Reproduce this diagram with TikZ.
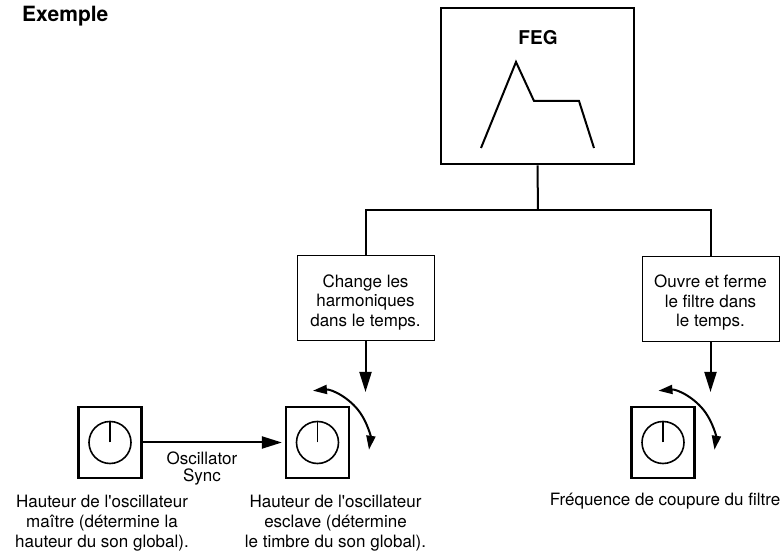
\documentclass[tikz,border=0pt]{standalone}
\usepackage{fontspec}
\setmainfont{TeX Gyre Heros}
\usetikzlibrary{arrows.meta}
\begin{document}
\begin{tikzpicture}[x=1pt,y=-1pt,
  lbl/.style={font=\fontsize{17}{20}\selectfont, align=center, inner sep=0},
  tbox/.style={draw, line width=1pt, minimum width=137pt, minimum height=85pt, align=center, font=\fontsize{17}{19.5}\selectfont, inner sep=0},
  knob/.style={draw, line width=2.2pt, minimum width=63pt, minimum height=71pt, inner sep=0},
  dial/.style={line width=1.6pt},
  conn/.style={line width=2pt},
  bigarrow/.style={line width=2pt, -{Triangle[length=20pt,width=12pt]}},
  turn/.style={line width=2pt, {Triangle[length=14pt,width=9pt]}-{Triangle[length=14pt,width=9pt]}}
]
\useasboundingbox (0,0) rectangle (780,553);

\node[font=\fontsize{21}{25}\selectfont\bfseries, anchor=base west, inner sep=0] (title) at (22,22) {Exemple};

% FEG box
\node[draw, line width=2.6pt, minimum width=193pt, minimum height=156pt, inner sep=0] (feg) at (537.5,86) {};
\node[font=\fontsize{19}{22}\selectfont\bfseries, anchor=base, inner sep=0] (fegt) at (538,45) {FEG};
\draw[line width=2pt, line join=miter] (481,148) -- (516,62) -- (534,101) -- (579,101) -- (594,148);

% text boxes
\node[tbox] (chg) at (365.5,298.5) {\rule{0pt}{20pt}Change les\\harmoniques\\dans le temps.};
\node[tbox] (ouv) at (710.5,299) {\rule{0pt}{20pt}Ouvre et ferme\\le filtre dans\\le temps.};

\coordinate (j) at (538,210.5);
\draw[conn] (feg.south) -- (j);
\draw[conn] (chg.north) -- (chg.north |- j) -- (ouv.north |- j) -- (ouv.north);

% knobs
\node[knob] (k1) at (110,442.5) {};
\node[knob] (k2) at (317.5,442.5) {};
\node[knob] (k3) at (663,442.5) {};
\foreach \k in {k1,k2,k3}{
  \draw[dial] (\k.center) circle[radius=21];
  \draw[dial] (\k.center) -- ++(0,-21);
}

% arrows into knobs
\coordinate (t2) at (365.5,392);
\coordinate (t3) at (710.5,392);
\draw[bigarrow] (chg.south) -- (t2);
\draw[bigarrow] (ouv.south) -- (t3);
\draw[bigarrow, shorten >=3pt] (k1.east) -- (k2.west);
\node[lbl, anchor=north, font=\fontsize{17}{17}\selectfont] (sync) at (202,452) {Oscillator\\Sync};

% turning arrows
\draw[turn] (k2.center) ++(-95:52) arc[start angle=-95, end angle=8, radius=52];
\draw[turn] (k3.center) ++(-95:52) arc[start angle=-95, end angle=8, radius=52];

% labels
\node[lbl, anchor=north] (l1) at (102,495) {Hauteur de l\textquotesingle oscillateur\\maître (détermine la\\hauteur du son global).};
\node[lbl, anchor=north] (l2) at (335.5,495) {Hauteur de l\textquotesingle oscillateur\\esclave (détermine\\le timbre du son global).};
\node[lbl, anchor=north] (l3) at (665,493) {Fréquence de coupure du filtre};
\end{tikzpicture}
\end{document}
